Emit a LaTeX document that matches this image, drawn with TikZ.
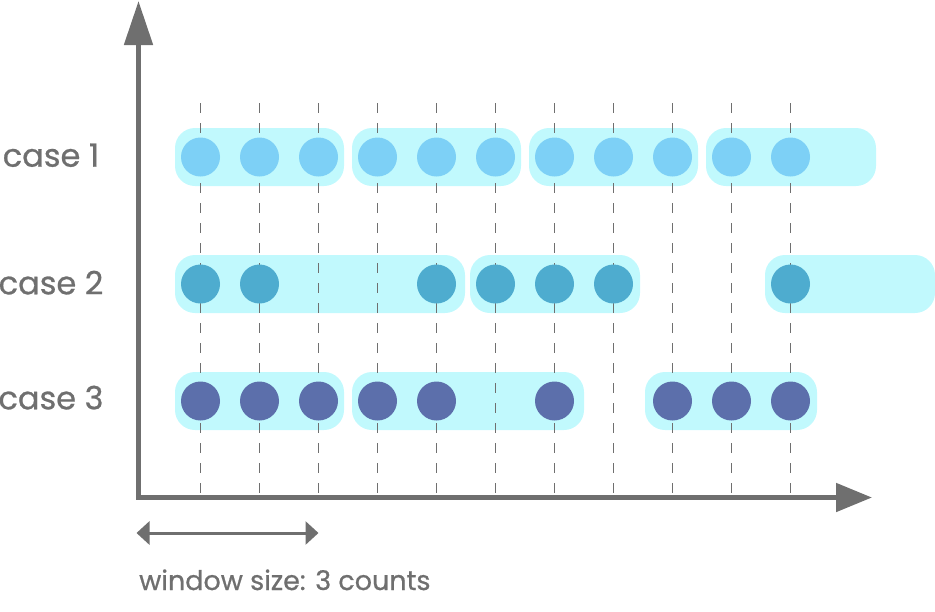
\documentclass[tikz,border=0pt]{standalone}
\usepackage{fontspec}
\setmainfont{Poppins}
\newfontfamily\labelfont{Poppins}[FakeBold=0.7]
\usetikzlibrary{arrows.meta}

\definecolor{axisgray}{HTML}{6F6F6F}
\definecolor{pillcyan}{HTML}{C1F9FD}
\definecolor{dotone}{HTML}{7DD0F6}
\definecolor{dottwo}{HTML}{4EACCF}
\definecolor{dotthree}{HTML}{5C6FAB}

\tikzset{
    pill/.style={fill=pillcyan, rounded corners=20pt, minimum height=58pt, inner sep=0pt},
    tick/.style={axisgray, line width=1pt, dash pattern=on 10pt off 10pt},
    ball/.style={circle, minimum size=39pt, inner sep=0pt},
    caselabel/.style={text=axisgray, font=\labelfont\fontsize{32}{38}\selectfont, anchor=base, inner sep=0pt}
}

\begin{document}
\begin{tikzpicture}[x=1pt, y=-1pt]
    \useasboundingbox (0,0) rectangle (935,611);

    % Windows
    \foreach \l/\r/\y/\n in {175/344/157/c1w1, 352/521/157/c1w2, 529/698/157/c1w3, 706/876/157/c1w4,
                             175/465/284/c2w1, 470/640/284/c2w2, 765/935/284/c2w3,
                             175/344/401/c3w1, 352/584/401/c3w2, 645/817/401/c3w3}
        \node[pill, minimum width={\r-\l}] (\n) at ({(\l+\r)/2}, \y) {};

    % Time slots
    \foreach \i in {0,...,10} {
        \coordinate (top\i) at ({200.5+59*\i}, 103);
        \coordinate (bot\i) at ({200.5+59*\i}, 495);
        \draw[tick] (top\i) -- (bot\i);
    }

    % Events
    \foreach \i in {0,...,10} \node[ball, fill=dotone] (c1d\i) at ({200.5+59*\i}, 157) {};
    \foreach \i in {0,1,4,5,6,7,10} \node[ball, fill=dottwo] (c2d\i) at ({200.5+59*\i}, 284) {};
    \foreach \i in {0,1,2,3,4,6,8,9,10} \node[ball, fill=dotthree] (c3d\i) at ({200.5+59*\i}, 401) {};

    % Axes
    \coordinate (ytip) at (138.5, 1);
    \coordinate (xtip) at (872, 497.5);
    \draw[axisgray, line width=5pt, {Triangle[length=44pt, width=28pt]}-{Triangle[length=36pt, width=28pt]}] (ytip) |- (xtip);

    \node[caselabel] (case1) at (51, 166.7) {case 1};
    \node[caselabel] (case2) at (51, 294.3) {case 2};
    \node[caselabel] (case3) at (51, 409.3) {case 3};

    % Window size
    \coordinate (wl) at (136.5, 533);
    \coordinate (wr) at (318.5, 533);
    \draw[axisgray, line width=3pt, {Triangle[length=13pt, width=23pt]}-{Triangle[length=13pt, width=23pt]}] (wl) -- (wr);
    \node[text=axisgray, font=\labelfont\fontsize{27}{32}\selectfont, anchor=base west, inner sep=0pt] (winlabel) at (139, 590) {window size: 3 counts};
\end{tikzpicture}
\end{document}
